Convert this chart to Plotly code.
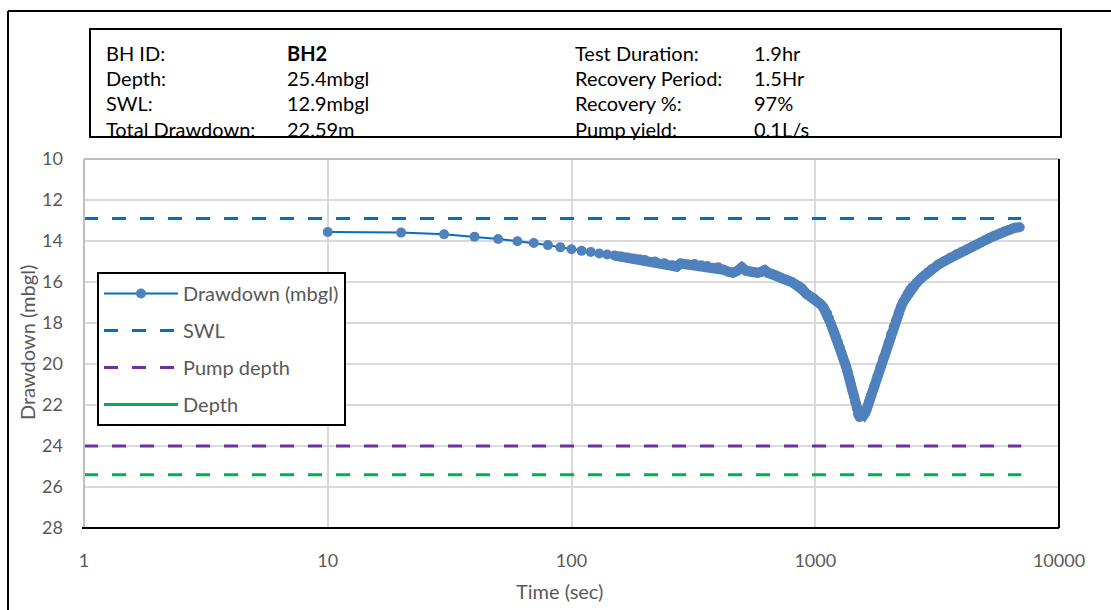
import plotly.graph_objects as go

# ---------------- data ----------------
time_sec = [10, 20, 30, 40, 50, 60, 70, 80, 90, 100, 110, 120, 130, 140, 150,
            160, 170, 180, 190, 200, 220, 240, 260, 270, 280, 300, 320, 340, 360, 380,
            400, 420, 440, 460, 480, 500, 520, 540, 560, 580, 600, 620, 640, 660, 680,
            700, 720, 740, 760, 780, 800, 820, 840, 860, 880, 900, 920, 940, 960, 980,
            1000, 1020, 1040, 1060, 1080, 1100, 1120, 1140, 1160, 1180, 1200, 1220, 1240,
            1260, 1280, 1300, 1320, 1340, 1360, 1380, 1400, 1420, 1440, 1460, 1480, 1500,
            1520, 1540, 1560, 1580, 1600, 1620, 1640, 1660, 1680, 1700, 1750, 1800, 1850,
            1900, 1950, 2000, 2050, 2100, 2150, 2200, 2250, 2300, 2350, 2400, 2450, 2500,
            2600, 2700, 2800, 2900, 3000, 3200, 3400, 3600, 3800, 4000, 4200, 4400, 4600,
            4800, 5000, 5200, 5400, 5600, 5800, 6000, 6200, 6400, 6600, 6900]
drawdown_mbgl = [13.56, 13.59, 13.67, 13.79, 13.90, 14.01, 14.10, 14.20, 14.31, 14.40, 14.48, 14.54, 14.61, 14.66, 14.71,
                 14.76, 14.80, 14.85, 14.89, 14.93, 15.00, 15.08, 15.18, 15.25, 15.10, 15.15, 15.12, 15.18, 15.22, 15.30,
                 15.28, 15.40, 15.50, 15.55, 15.45, 15.28, 15.45, 15.50, 15.52, 15.55, 15.50, 15.42, 15.55, 15.60, 15.65,
                 15.72, 15.78, 15.85, 15.90, 15.95, 16.00, 16.08, 16.15, 16.22, 16.30, 16.45, 16.58, 16.65, 16.72, 16.78,
                 16.85, 16.95, 17.03, 17.12, 17.25, 17.40, 17.55, 17.80, 18.05, 18.30, 18.50, 18.72, 18.95,
                 19.20, 19.45, 19.70, 19.92, 20.15, 20.40, 20.70, 21.00, 21.28, 21.55, 21.85, 22.15, 22.45,
                 22.59, 22.50, 22.45, 22.50, 22.40, 22.25, 22.05, 21.85, 21.68, 21.50, 21.05, 20.60, 20.15,
                 19.75, 19.40, 18.95, 18.55, 18.20, 17.85, 17.50, 17.20, 16.95, 16.75, 16.55, 16.38, 16.25,
                 16.05, 15.85, 15.68, 15.52, 15.38, 15.15, 14.97, 14.80, 14.65, 14.52, 14.40, 14.28, 14.17,
                 14.06, 13.95, 13.85, 13.76, 13.68, 13.60, 13.52, 13.46, 13.40, 13.35, 13.33]

ref_time = [1, 7000]
swl_level = [12.9, 12.9]
pump_level = [24.0, 24.0]
depth_level = [25.4, 25.4]

x_tick_vals = [1, 10, 100, 1000, 10000]
x_tick_text = ["1", "10", "100", "1000", "10000"]
y_tick_vals = [10, 12, 14, 16, 18, 20, 22, 24, 26, 28]

info_left_labels = ["BH ID:", "Depth:", "SWL:", "Total Drawdown:"]
info_left_values = ["<b>BH2</b>", "25.4mbgl", "12.9mbgl", "22.59m"]
info_right_labels = ["Test Duration:", "Recovery Period:", "Recovery %:", "Pump yield:"]
info_right_values = ["1.9hr", "1.5Hr", "97%", "0.1L/s"]

# ---------------- geometry helpers ----------------
W, H = 1111, 610
PL, PR, PT, PB = 84, 1059, 159, 528


def fx(px):
    return (px - PL) / (PR - PL)


def fy(py):
    return (PB - py) / (PB - PT)


FONT = "Lato, 'Liberation Sans', Arial, sans-serif"
GREY = "#595959"

fig = go.Figure()

# reference lines
fig.add_trace(go.Scatter(x=ref_time, y=swl_level, mode="lines", name="SWL",
                         line=dict(color="#0070C0", width=3, dash="14px,14px"),
                         legendgroup="b", legendrank=2))
fig.add_trace(go.Scatter(x=ref_time, y=pump_level, mode="lines", name="Pump depth",
                         line=dict(color="#7030A0", width=3, dash="14px,14px"),
                         legendgroup="c", legendrank=3))
fig.add_trace(go.Scatter(x=ref_time, y=depth_level, mode="lines", name="Depth",
                         line=dict(color="#00B050", width=3, dash="14px,14px"),
                         showlegend=False, legendgroup="d"))
# legend entry for depth (solid in the reference legend)
fig.add_trace(go.Scatter(x=[None], y=[None], mode="lines", name="Depth",
                         line=dict(color="#00B050", width=3),
                         legendgroup="d", legendrank=4))

# dense band of overlapping markers
dense_start = time_sec.index(150)
fig.add_trace(go.Scatter(x=time_sec[dense_start:], y=drawdown_mbgl[dense_start:], mode="lines",
                         line=dict(color="#4F81BD", width=10), showlegend=False,
                         hoverinfo="skip"))
fig.add_trace(go.Scatter(x=time_sec, y=drawdown_mbgl, mode="lines+markers",
                         name="Drawdown (mbgl)",
                         line=dict(color="#0070C0", width=2),
                         marker=dict(color="#4F81BD", size=10),
                         legendgroup="a", legendrank=1))

shapes = []
# outer chart frame (top and left visible)
shapes.append(dict(type="line", xref="paper", yref="paper", x0=fx(8), x1=fx(1111), y0=fy(11), y1=fy(11),
                   line=dict(color="black", width=2)))
shapes.append(dict(type="line", xref="paper", yref="paper", x0=fx(8), x1=fx(8), y0=fy(11), y1=fy(610),
                   line=dict(color="black", width=2)))
# info box
shapes.append(dict(type="rect", xref="paper", yref="paper", x0=fx(90), x1=fx(1061), y0=fy(137), y1=fy(29),
                   line=dict(color="black", width=2), layer="above"))
# plot frame
shapes.append(dict(type="line", xref="paper", yref="paper", x0=0, x1=1, y0=1, y1=1,
                   line=dict(color="#BFBFBF", width=2)))
shapes.append(dict(type="line", xref="paper", yref="paper", x0=0, x1=0, y0=0, y1=1,
                   line=dict(color="#BFBFBF", width=2)))
shapes.append(dict(type="line", xref="paper", yref="paper", x0=fx(82), x1=1, y0=0, y1=0,
                   line=dict(color="black", width=2)))
shapes.append(dict(type="line", xref="paper", yref="paper", x0=1, x1=1, y0=0, y1=1,
                   line=dict(color="black", width=2)))

annotations = []
row_y = [53, 78, 103, 129]
cols = [(104, info_left_labels), (285, info_left_values), (573, info_right_labels), (752, info_right_values)]
for cx, texts in cols:
    for ry, t in zip(row_y, texts):
        annotations.append(dict(xref="paper", yref="paper", x=fx(cx), y=fy(ry), text=t,
                                showarrow=False, xanchor="left", yanchor="middle",
                                font=dict(family=FONT, size=20, color="black")))
# axis titles
annotations.append(dict(xref="paper", yref="paper", x=fx(27), y=fy(343), text="Drawdown (mbgl)",
                        textangle=-90, showarrow=False, xanchor="center", yanchor="middle",
                        font=dict(family=FONT, size=20, color=GREY)))
annotations.append(dict(xref="paper", yref="paper", x=fx(559), y=fy(591), text="Time (sec)",
                        showarrow=False, xanchor="center", yanchor="middle",
                        font=dict(family=FONT, size=20, color=GREY)))

fig.update_layout(
    width=W, height=H,
    margin=dict(l=PL, r=W - PR, t=PT, b=H - PB, pad=0),
    paper_bgcolor="white", plot_bgcolor="white",
    font=dict(family=FONT, color=GREY, size=18),
    shapes=shapes, annotations=annotations,
    showlegend=True,
    legend=dict(x=fx(97), y=fy(272), xanchor="left", yanchor="top",
                bgcolor="white", bordercolor="black", borderwidth=2,
                font=dict(family=FONT, size=20, color=GREY),
                itemwidth=74, traceorder="grouped", tracegroupgap=8,
                itemclick=False),
    xaxis=dict(type="log", range=[0, 4], tickvals=x_tick_vals, ticktext=x_tick_text,
               showgrid=True, gridcolor="#D9D9D9", gridwidth=1.5, zeroline=False,
               showline=False, ticks="", ticklabelstandoff=20,
               tickfont=dict(family=FONT, size=18, color=GREY)),
    yaxis=dict(range=[28, 10], tickvals=y_tick_vals, showgrid=True, gridcolor="#D9D9D9",
               gridwidth=1.5, zeroline=False, showline=False, ticks="", ticklabelstandoff=20,
               tickfont=dict(family=FONT, size=18, color=GREY)),
)

fig.write_html("out.html")
